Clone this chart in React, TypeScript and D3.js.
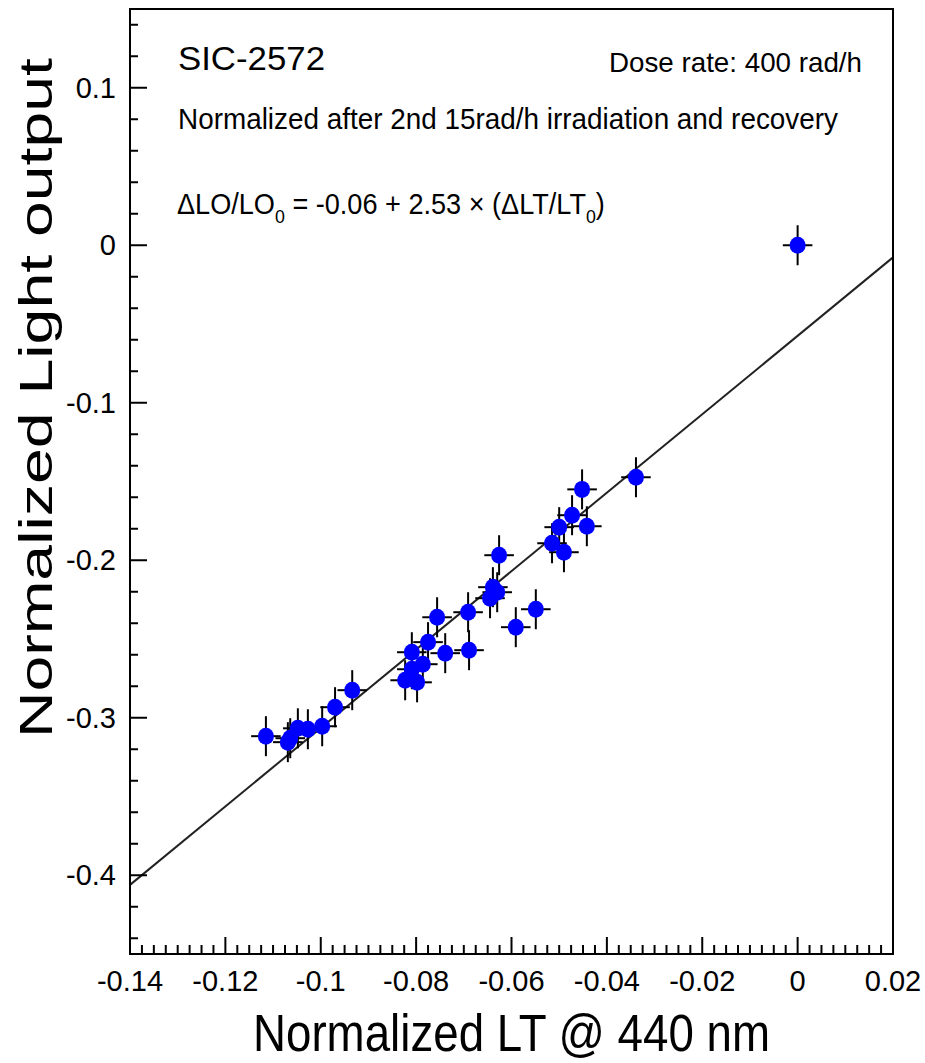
import React from 'react';
import * as d3 from 'd3';

// Normalized LT @ 440 nm vs normalized light output
const ltValues = [
  0.0, -0.0339, -0.0452, -0.0473, -0.0442, -0.05, -0.0515, -0.049, -0.0626,
  -0.0549, -0.0591, -0.0639, -0.063, -0.0645, -0.0691, -0.0756, -0.0689,
  -0.0739, -0.0775, -0.0809, -0.0786, -0.0809, -0.0823, -0.0798, -0.0934,
  -0.097, -0.0997, -0.1027, -0.1048, -0.1064, -0.1069, -0.1115,
];
const loValues = [
  0.0, -0.1473, -0.155, -0.1714, -0.1784, -0.179, -0.1892, -0.1949, -0.1968,
  -0.2311, -0.2425, -0.2171, -0.2203, -0.2241, -0.233, -0.2362, -0.2571,
  -0.259, -0.252, -0.2584, -0.266, -0.2692, -0.2762, -0.2775, -0.2825,
  -0.2933, -0.3054, -0.3073, -0.3067, -0.313, -0.3155, -0.3117,
];
const errLT = 0.0031;
const errLO = 0.0127;

const fitIntercept = -0.0575;
const fitSlope = 2.49;

const xMajorTicks = [-0.14, -0.12, -0.1, -0.08, -0.06, -0.04, -0.02, 0, 0.02];
const xTickLabels = ['-0.14', '-0.12', '-0.1', '-0.08', '-0.06', '-0.04', '-0.02', '0', '0.02'];
const yMajorTicks = [-0.4, -0.3, -0.2, -0.1, 0, 0.1];
const yTickLabels = ['-0.4', '-0.3', '-0.2', '-0.1', '0', '0.1'];

const W = 925;
const H = 1063;
const FONT = '"Liberation Sans", Arial, Helvetica, sans-serif';

export default function App() {
  const left = 130, right = 893, top = 9, bottom = 954;

  const x = d3.scaleLinear().domain([-0.14, 0.02]).range([left, right]);
  const y = d3.scaleLinear().domain([-0.45, 0.15]).range([bottom, top]);

  const xMinor = d3.range(0, 65).map(i => -0.14 + i * 0.0025)
    .filter(v => !xMajorTicks.some(t => Math.abs(t - v) < 1e-6));
  const yMinor = d3.range(0, 31).map(i => -0.44 + i * 0.02)
    .filter(v => v < 0.15 && !yMajorTicks.some(t => Math.abs(t - v) < 1e-6));

  const fitLine = d3.line<number>()
    .x(d => x(d))
    .y(d => y(fitIntercept + fitSlope * d));

  const points = ltValues.map((v, i) => ({ lt: v, lo: loValues[i] }));

  return (
    <div style={{ position: 'absolute', left: 0, top: 0 }}>
      <svg width={W} height={H} viewBox={`0 0 ${W} ${H}`} style={{ display: 'block', background: '#fff' }}>
        <rect x={0} y={0} width={W} height={H} fill="#fff" />

        {/* fit line */}
        <path d={fitLine([-0.14, 0.02]) || ''} fill="none" stroke="#222" strokeWidth={2} />

        {/* data points with error bars */}
        {points.map((p, i) => (
          <g key={i}>
            <line x1={x(p.lt - errLT)} x2={x(p.lt + errLT)} y1={y(p.lo)} y2={y(p.lo)} stroke="#000" strokeWidth={2} />
            <line x1={x(p.lt)} x2={x(p.lt)} y1={y(p.lo - errLO)} y2={y(p.lo + errLO)} stroke="#000" strokeWidth={2} />
          </g>
        ))}
        {points.map((p, i) => (
          <ellipse key={i} cx={x(p.lt)} cy={y(p.lo)} rx={8} ry={8.5} fill="#0000ff" />
        ))}

        {/* frame */}
        <rect x={left} y={top} width={right - left} height={bottom - top} fill="none" stroke="#000" strokeWidth={2} />

        {/* x ticks */}
        {xMajorTicks.map((t, i) => (
          <g key={'xm' + i}>
            <line x1={x(t)} x2={x(t)} y1={bottom} y2={bottom - 17} stroke="#000" strokeWidth={2} />
            <text x={x(t)} y={991} textAnchor="middle" fontFamily={FONT} fontSize={29} fill="#000">{xTickLabels[i]}</text>
          </g>
        ))}
        {xMinor.map((t, i) => (
          <line key={'xn' + i} x1={x(t)} x2={x(t)} y1={bottom} y2={bottom - 9} stroke="#000" strokeWidth={2} />
        ))}

        {/* y ticks */}
        {yMajorTicks.map((t, i) => (
          <g key={'ym' + i}>
            <line x1={left} x2={left + 17} y1={y(t)} y2={y(t)} stroke="#000" strokeWidth={2} />
            <text x={116} y={y(t) + 10} textAnchor="end" fontFamily={FONT} fontSize={29} fill="#000">{yTickLabels[i]}</text>
          </g>
        ))}
        {yMinor.map((t, i) => (
          <line key={'yn' + i} x1={left} x2={left + 8} y1={y(t)} y2={y(t)} stroke="#000" strokeWidth={2} />
        ))}

        {/* annotations */}
        <text x={178} y={70} fontFamily={FONT} fontSize={33} fill="#000" textLength={147} lengthAdjust="spacingAndGlyphs">SIC-2572</text>
        <text x={609} y={72} fontFamily={FONT} fontSize={28} fill="#000" textLength={253} lengthAdjust="spacingAndGlyphs">Dose rate: 400 rad/h</text>
        <text x={178} y={129} fontFamily={FONT} fontSize={29} fill="#000" textLength={660} lengthAdjust="spacingAndGlyphs">Normalized after 2nd 15rad/h irradiation and recovery</text>
        <g transform="translate(177, 214) scale(0.935, 1)">
          <text x={0} y={0} fontFamily={FONT} fontSize={29} fill="#000">
            <tspan>ΔLO/LO</tspan>
            <tspan fontSize={19} dy={9}>0</tspan>
            <tspan dy={-9}> = -0.06 + 2.53 × (ΔLT/LT</tspan>
            <tspan fontSize={19} dy={9}>0</tspan>
            <tspan dy={-9}>)</tspan>
          </text>
        </g>

        {/* axis titles */}
        <text x={253} y={1051} fontFamily={FONT} fontSize={51} fill="#000" textLength={517} lengthAdjust="spacingAndGlyphs">Normalized LT @ 440 nm</text>
        <text transform={`translate(52, 398) rotate(-90)`} textAnchor="middle" fontFamily={FONT} fontSize={47} fill="#000" textLength={680} lengthAdjust="spacingAndGlyphs">Normalized Light output</text>
      </svg>
    </div>
  );
}
